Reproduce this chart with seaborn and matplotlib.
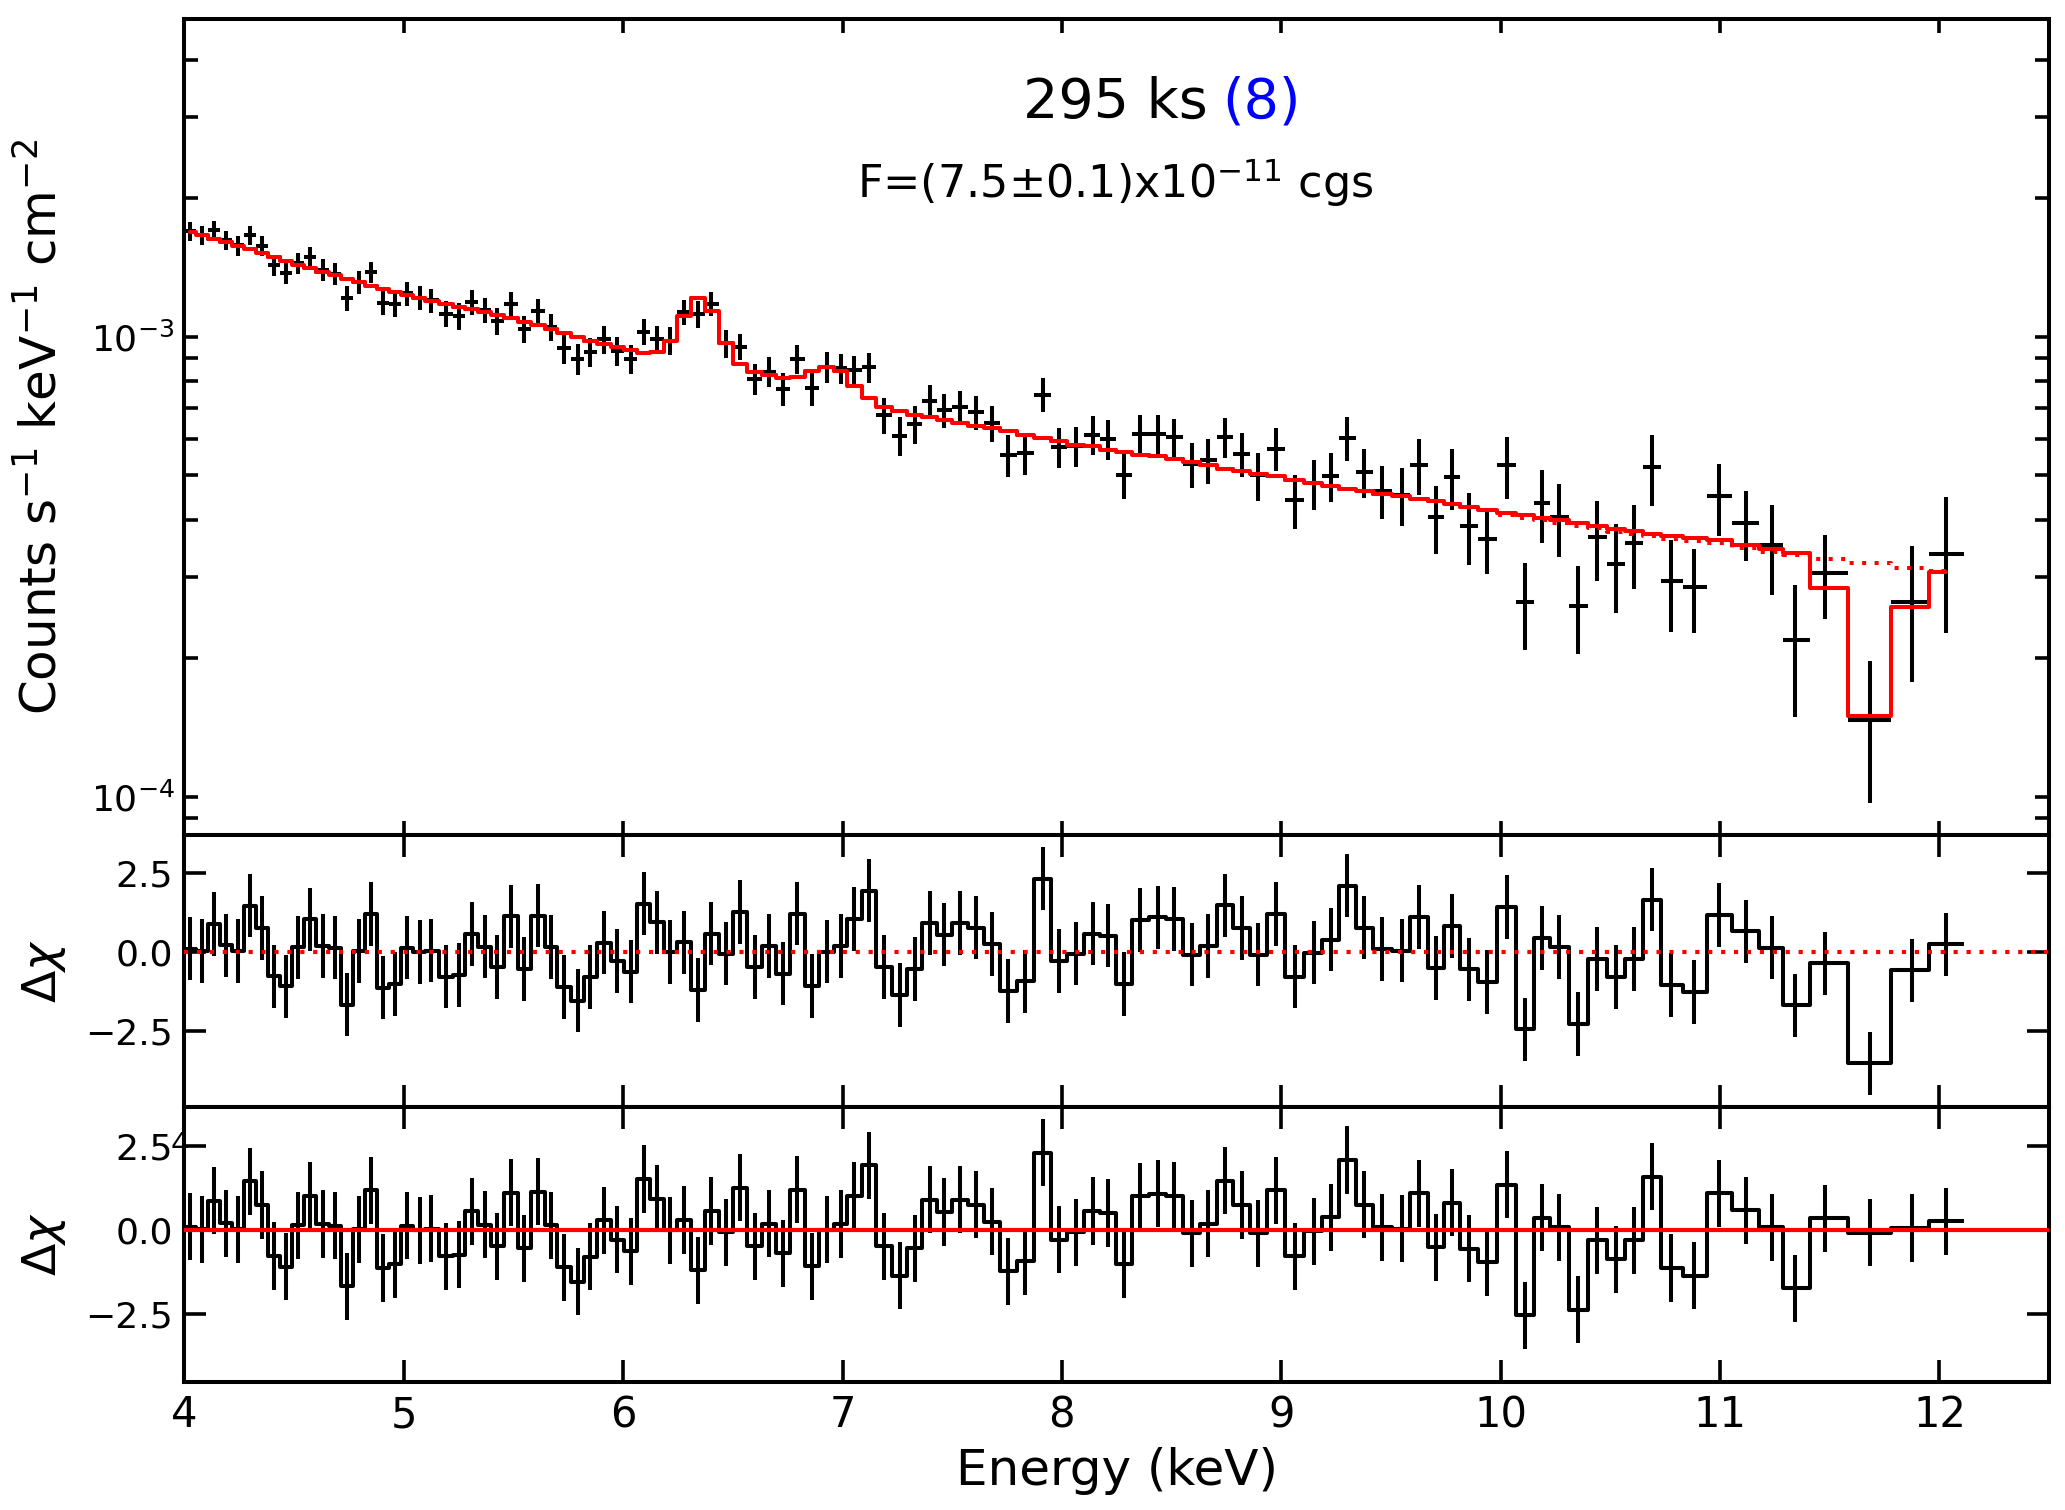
import numpy as np
import pandas as pd
import matplotlib
matplotlib.use("Agg")
import matplotlib.pyplot as plt
from matplotlib.ticker import NullFormatter, LogLocator
import seaborn as sns

sns.set_theme(style="ticks")
plt.rcParams["font.family"] = ["DejaVu Sans"]
plt.rcParams["mathtext.fontset"] = "dejavusans"
plt.rcParams["text.color"] = "black"
plt.rcParams["axes.labelcolor"] = "black"
plt.rcParams["xtick.color"] = "black"
plt.rcParams["ytick.color"] = "black"
plt.rcParams["axes.edgecolor"] = "black"

# bin centres (keV)
energy = [4.026, 4.080, 4.136, 4.190, 4.246, 4.301, 4.355, 4.409, 4.463, 4.519,
          4.573, 4.631, 4.687, 4.740, 4.794, 4.850, 4.906, 4.960, 5.016, 5.072,
          5.126, 5.194, 5.252, 5.310, 5.369, 5.427, 5.488, 5.550, 5.613, 5.671,
          5.730, 5.792, 5.851, 5.911, 5.974, 6.035, 6.095, 6.154, 6.214, 6.277,
          6.340, 6.402, 6.469, 6.532, 6.601, 6.664, 6.729, 6.794, 6.860,
          6.929, 6.991, 7.054, 7.120, 7.189, 7.260, 7.329, 7.400, 7.464, 7.536,
          7.609, 7.682, 7.755, 7.834, 7.912, 7.987, 8.062, 8.140, 8.211, 8.284,
          8.357, 8.436, 8.512, 8.591, 8.667, 8.744, 8.819, 8.895, 8.974, 9.062,
          9.148, 9.226, 9.299, 9.378, 9.460, 9.548, 9.628, 9.707,
          9.777, 9.855, 9.937, 10.030, 10.112, 10.188, 10.266, 10.353, 10.439, 10.528,
          10.610, 10.690, 10.776, 10.882, 10.995, 11.118, 11.237, 11.341, 11.479, 11.684,
          11.875, 12.030]
bin_lo, bin_hi = 4.0, 12.112

# continuum model without absorption lines (dotted), units 1e-3
model_cont = [1.686, 1.661, 1.633, 1.606, 1.577, 1.549, 1.518, 1.488, 1.460, 1.434,
              1.410, 1.385, 1.359, 1.335, 1.313, 1.291, 1.269, 1.251, 1.232, 1.214,
              1.195, 1.178, 1.162, 1.147, 1.131, 1.115, 1.096, 1.078, 1.058, 1.039,
              1.019, 1.000, 0.980, 0.966, 0.951, 0.936, 0.923, 0.928, 0.980, 1.109,
              1.211, 1.137, 0.970, 0.871, 0.840, 0.827, 0.813, 0.817, 0.841,
              0.859, 0.841, 0.782, 0.736, 0.703, 0.690, 0.677, 0.669, 0.660, 0.649,
              0.640, 0.633, 0.623, 0.612, 0.602, 0.592, 0.582, 0.578, 0.568, 0.561,
              0.554, 0.549, 0.542, 0.533, 0.527, 0.516, 0.510, 0.504, 0.497, 0.487,
              0.481, 0.474, 0.466, 0.461, 0.456, 0.450, 0.444, 0.439,
              0.433, 0.426, 0.419, 0.409, 0.404, 0.399, 0.394, 0.388, 0.383, 0.377,
              0.373, 0.368, 0.364, 0.360, 0.356, 0.348, 0.341, 0.336, 0.329, 0.322,
              0.314, 0.310]

# full model (solid) where it differs from the continuum: bins from 10.03 keV on
model_line_tail = [0.414, 0.409, 0.404, 0.399, 0.393, 0.388, 0.382, 0.378, 0.373, 0.369,
                   0.365, 0.361, 0.352, 0.345, 0.339, 0.284, 0.150, 0.258, 0.308]

# 1-sigma error, percent of the continuum model
rel_err = [4.8, 4.8, 4.9, 4.9, 5.0, 5.1, 5.1, 5.2, 5.2, 5.3,
           5.4, 5.5, 5.5, 5.6, 5.7, 5.7, 5.8, 5.9, 6.0, 6.0,
           6.1, 6.2, 6.3, 6.3, 6.4, 6.5, 6.6, 6.6, 6.7, 6.8,
           6.8, 6.9, 7.0, 7.0, 7.1, 7.1, 7.3, 7.0, 6.8, 6.4,
           6.2, 6.4, 6.9, 7.3, 7.5, 7.6, 7.7, 7.8, 7.7,
           7.6, 7.7, 8.0, 8.5, 8.6, 8.7, 8.9, 9.0, 9.0, 9.1,
           9.2, 9.3, 9.2, 9.4, 10.5, 9.8, 10.0, 10.2, 10.4, 10.5,
           10.8, 11.0, 11.0, 11.2, 11.4, 11.8, 11.8, 12.0, 12.4, 12.2,
           12.6, 12.8, 14.0, 13.4, 13.4, 14.6, 16.4, 15.5,
           17.2, 16.3, 14.0, 19.8, 14.1, 19.6, 18.6, 14.5, 18.9, 18.8,
           19.8, 25.0, 18.3, 16.3, 22.4, 19.8, 22.9, 20.8, 19.2, 15.5,
           27.7, 35.7]

# residuals against the continuum model (middle panel)
delchi_cont = [0.11, 0.03, 0.89, 0.21, 0.04, 1.47, 0.76, -0.76, -1.08, 0.15,
               1.03, 0.19, 0.14, -1.66, 0.04, 1.20, -1.12, -1.00, 0.14, 0.00,
               0.05, -0.77, -0.72, 0.57, 0.17, -0.47, 1.13, -0.53, 1.15, 0.16,
               -1.10, -1.53, -0.78, 0.30, -0.28, -0.62, 1.53, 0.94, 0.01, 0.31,
               -1.19, 0.58, -0.05, 1.27, -0.47, 0.20, -0.68, 1.21, -1.07,
               0.02, 0.19, 1.04, 1.94, -0.47, -1.35, -0.53, 0.92, 0.55, 0.92,
               0.77, 0.26, -1.22, -0.92, 2.32, -0.28, -0.05, 0.58, 0.52, -1.01,
               1.02, 1.10, 1.04, -0.08, 0.20, 1.48, 0.76, -0.08, 1.20, -0.77,
               -0.02, 0.39, 2.10, 0.77, 0.10, 0.05, 1.11, -0.50,
               0.83, -0.54, -0.94, 1.43, -2.44, 0.45, 0.16, -2.27, -0.22, -0.79,
               -0.22, 1.66, -1.04, -1.26, 1.17, 0.66, 0.14, -1.68, -0.35, -3.51,
               -0.57, 0.25]


e = np.array(energy)
cont = np.array(model_cont) * 1e-3
line = cont.copy()
line[-len(model_line_tail):] = np.array(model_line_tail) * 1e-3
sigma = cont * np.array(rel_err) / 100.0
flux = cont + np.array(delchi_cont) * sigma
delchi_line = (flux - line) / sigma

edges = np.concatenate([[bin_lo], 0.5 * (e[1:] + e[:-1]), [bin_hi]])
xerr = np.vstack([e - edges[:-1], edges[1:] - e])

df = pd.DataFrame({"energy": e, "cont": cont, "line": line, "flux": flux,
                   "d_cont": delchi_cont, "d_line": delchi_line})

fig = plt.figure(figsize=(20.65, 15.10), dpi=100)
L, W = 0.0893, 0.9030
ax0 = fig.add_axes([L, 0.4467, W, 0.5407])
ax1 = fig.add_axes([L, 0.2672, W, 0.1795])
ax2 = fig.add_axes([L, 0.0848, W, 0.1824])

dots = (0, (1, 2.1))
lw_data = 2.9
lw_model = 2.9

# spectrum
ax0.errorbar(e, flux, xerr=xerr, yerr=sigma, fmt="none", ecolor="black",
             elinewidth=lw_data, capsize=0, zorder=2)
sns.lineplot(data=df, x="energy", y="cont", ax=ax0, color="red", lw=lw_model,
             drawstyle="steps-mid", linestyle=dots, estimator=None, zorder=3)
sns.lineplot(data=df, x="energy", y="line", ax=ax0, color="red", lw=lw_model,
             drawstyle="steps-mid", estimator=None, zorder=4)
ax0.set_yscale("log")
ax0.set_ylim(8.23e-5, 4.906e-3)
ax0.yaxis.set_minor_locator(LogLocator(base=10, subs=np.arange(2, 10) * 1.0, numticks=20))
ax0.yaxis.set_minor_formatter(NullFormatter())

ax0.text(0.5490, 0.8796, "295 ks", transform=ax0.transAxes, ha="right",
         va="baseline", fontsize=40, color="black")
ax0.text(0.5565, 0.8796, "(8)", transform=ax0.transAxes, ha="left",
         va="baseline", fontsize=40, color="blue")
ax0.text(0.4991, 0.7804, "F=(7.5\u00b10.1)x10$^{-11}$ cgs", transform=ax0.transAxes,
         ha="center", va="baseline", fontsize=32, color="black")

# residuals vs continuum
ax1.errorbar(e, delchi_cont, xerr=xerr, yerr=1.0, fmt="none", ecolor="black",
             elinewidth=lw_data, capsize=0, zorder=2)
sns.lineplot(data=df, x="energy", y="d_cont", ax=ax1, color="black", lw=lw_data,
             drawstyle="steps-mid", estimator=None, zorder=2)
ax1.axhline(0, color="red", lw=3.0, linestyle=dots, zorder=3)
ax1.set_ylim(-4.87, 3.68)

# residuals vs full model
ax2.errorbar(e, delchi_line, xerr=xerr, yerr=1.0, fmt="none", ecolor="black",
             elinewidth=lw_data, capsize=0, zorder=2)
sns.lineplot(data=df, x="energy", y="d_line", ax=ax2, color="black", lw=lw_data,
             drawstyle="steps-mid", estimator=None, zorder=2)
ax2.axhline(0, color="red", lw=3.0, zorder=3)
ax2.set_ylim(-4.51, 3.69)

for ax in (ax0, ax1, ax2):
    ax.set_xlim(4, 12.5)
    ax.set_xticks(range(4, 13))
    ax.set_xlabel("")
    ax.set_ylabel("")
    for s in ax.spines.values():
        s.set_linewidth(2.9)
        s.set_color("black")

ax0.tick_params(which="both", direction="in", top=True, right=True, length=10,
                width=2.6, color="black", labelcolor="black", labelbottom=False,
                labelsize=26, pad=7)
for ax in (ax1, ax2):
    ax.set_yticks([-2.5, 0.0, 2.5])
    ax.tick_params(direction="in", top=True, right=True, length=16, width=2.6,
                   color="black", labelcolor="black", labelsize=26, pad=8)
ax1.tick_params(labelbottom=False)
ax2.tick_params(axis="x", labelsize=30, pad=9)

fig.text(0.0203, 0.7172, "Counts s$^{-1}$ keV$^{-1}$ cm$^{-2}$", rotation=90,
         ha="center", va="center", fontsize=36, color="black")
fig.text(0.0213, 0.3570, r"$\Delta\chi$", rotation=90, ha="center", va="center",
         fontsize=34, color="black")
fig.text(0.0213, 0.1761, r"$\Delta\chi$", rotation=90, ha="center", va="center",
         fontsize=34, color="black")
fig.text(0.5408, 0.0258, "Energy (keV)", ha="center", va="center", fontsize=36,
         color="black")
fig.text(171 / 2065, 1 - 1153 / 1510, "4", ha="left", va="baseline", fontsize=21,
         color="black")

fig.savefig("out.png", dpi=100)
